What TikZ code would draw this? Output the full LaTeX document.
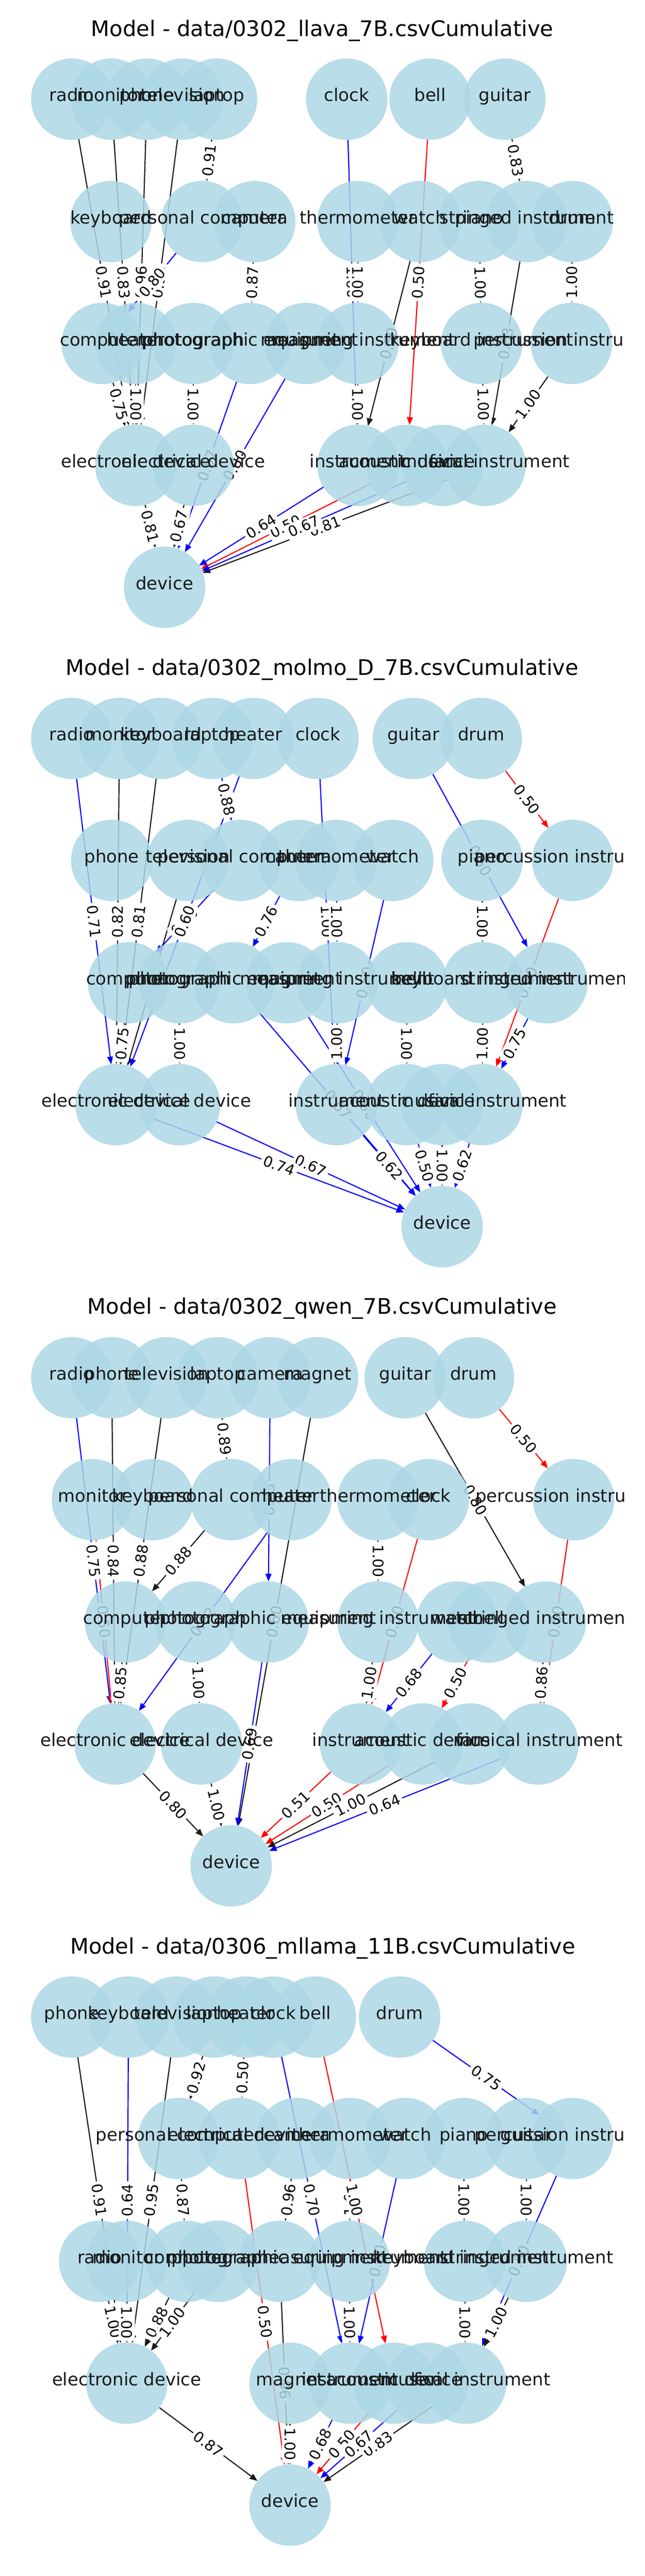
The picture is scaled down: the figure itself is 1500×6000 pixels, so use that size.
\documentclass[tikz,border=0pt]{standalone}
\usepackage{fontspec}
\setmainfont{DejaVu Sans}
\usetikzlibrary{arrows.meta,backgrounds}

\definecolor{nodeblue}{HTML}{ADD8E6}
\definecolor{ek}{HTML}{1A1A1A}
\definecolor{eb}{HTML}{0000FF}
\definecolor{er}{HTML}{FF0000}

\pgfdeclarelayer{edgelayer}
\pgfdeclarelayer{labellayer}
\pgfdeclarelayer{front}
\pgfsetlayers{background,edgelayer,labellayer,main,front}

\tikzset{
  vertex/.style={circle, minimum size=94pt, inner sep=0pt, fill=nodeblue, fill opacity=0.85,
    draw=nodeblue, draw opacity=0.85, line width=0.6pt},
  vlabel/.style={inner sep=0pt, text=black!90, text height=0.76em, text depth=0.24em,
    font=\fontsize{20.4}{24}\selectfont},
  link/.style={line width=1.3pt, -{Triangle[length=9pt,width=7pt]}},
  weight/.style={sloped, fill=white, rounded corners=3pt, inner sep=3pt,
    font=\fontsize{17}{20}\selectfont},
  paneltitle/.style={inner sep=0pt, font=\fontsize{25}{30}\selectfont}
}

% one row of a panel: prefix, y, list of name/x/label
\newcommand{\noderow}[3]{%
  \foreach \n/\x/\t in {#3} {%
    \node[vertex] (#1-\n) at (\x,#2) {};
    \begin{pgfonlayer}{front}
      \begin{scope}
        \clip (0,0) rectangle (1454,6000);
        \node[vlabel] (#1-\n-t) at (#1-\n) {\t};
      \end{scope}
    \end{pgfonlayer}}}

% one weighted edge: edges below, weights above them, nodes on top
\newcommand{\hyplink}[4]{%
  \begin{pgfonlayer}{edgelayer}\draw[link,draw=#3] (#1) -- (#2);\end{pgfonlayer}%
  \begin{pgfonlayer}{labellayer}\path (#1) -- node[weight] {#4} (#2);\end{pgfonlayer}}

\newcommand{\links}[2]{%
  \foreach \src/\dst/\col/\w in {#2} {\hyplink{#1-\src}{#1-\dst}{\col}{\w}}}

\begin{document}
\begin{tikzpicture}[x=0.5pt,y=-0.5pt]
  \useasboundingbox (0,0) rectangle (1500,6000);
  \begin{pgfonlayer}{background}
    \fill[white] (0,0) rectangle (1500,6000);
  \end{pgfonlayer}

  % llava
  \node[paneltitle] (a-title) at (750,72) {Model - data/0302\_llava\_7B.csvCumulative};
  \noderow{a}{231}{radio/167/radio, monitor/259/monitor, phone/342/phone, tv/425/television, laptop/504/laptop, clock/807/clock, bell/1001/bell, guitar/1175/guitar}
  \noderow{a}{516}{keyboard/258/keyboard, pc/470/personal computer, camera/593/camera, thermometer/833/thermometer, watch/978/watch, piano/1115/piano, stringed/1226/stringed instrument, drum/1332/drum}
  \noderow{a}{800}{computer/238/computer, heater/316/heater, photograph/450/photograph, photoeq/582/photographic equipment, magnet/711/magnet, measuring/833/measuring instrument, keyinst/1121/keyboard instrument, percussion/1330/percussion instrument}
  \noderow{a}{1084}{electronic/316/electronic device, electrical/450/electrical device, instrument/833/instrument, acoustic/947/acoustic device, fan/1031/fan, musical/1129/musical instrument}
  \noderow{a}{1368}{device/383/device}
  \links{a}{radio/electronic/ek/0.91, monitor/electronic/ek/0.83, phone/electronic/ek/0.96, tv/electronic/ek/0.90,
    laptop/pc/ek/0.91, pc/computer/eb/0.80, camera/photoeq/ek/0.87, clock/instrument/eb/1.00,
    thermometer/measuring/ek/1.00, watch/instrument/ek/0.50, measuring/instrument/ek/1.00,
    bell/acoustic/er/0.50, guitar/stringed/ek/0.83, stringed/musical/ek/0.83, piano/keyinst/ek/1.00,
    drum/percussion/ek/1.00, keyinst/musical/ek/1.00, percussion/musical/ek/1.00,
    computer/electronic/ek/0.75, heater/electronic/ek/1.00, photograph/electrical/ek/1.00,
    photoeq/device/eb/0.67, magnet/device/eb/0.80, electronic/device/ek/0.81, electrical/device/ek/0.67,
    musical/device/ek/0.81, acoustic/device/er/0.50, fan/device/eb/0.67, instrument/device/eb/0.64}

  % molmo
  \node[paneltitle] (b-title) at (750,1559) {Model - data/0302\_molmo\_D\_7B.csvCumulative};
  \noderow{b}{1720}{radio/167/radio, monitor/278/monitor, keyboard/375/keyboard, laptop/495/laptop, heater/590/heater, clock/740/clock, guitar/962/guitar, drum/1120/drum}
  \noderow{b}{2004}{phone/260/phone, tv/437/television, pc/560/personal computer, camera/695/camera, thermometer/783/thermometer, watch/914/watch, piano/1122/piano, percussion/1333/percussion instrument}
  \noderow{b}{2289}{computer/299/computer, photograph/418/photograph, photoeq/544/photographic equipment, magnet/667/magnet, measuring/785/measuring instrument, bell/947/bell, keyinst/1124/keyboard instrument, stringed/1273/stringed instrument}
  \noderow{b}{2573}{electronic/270/electronic device, electrical/418/electrical device, instrument/783/instrument, acoustic/947/acoustic device, fan/1029/fan, musical/1122/musical instrument}
  \noderow{b}{2857}{device/1029/device}
  \links{b}{radio/electronic/eb/0.71, monitor/electronic/ek/0.82, keyboard/electronic/ek/0.81, tv/electronic/ek/0.86,
    laptop/pc/eb/0.88, pc/computer/eb/0.60, heater/electronic/eb/0.60, clock/instrument/eb/1.00,
    thermometer/measuring/ek/1.00, camera/photoeq/eb/0.76, watch/instrument/eb/0.50, guitar/stringed/eb/0.50,
    drum/percussion/er/0.50, percussion/musical/er/0.50, stringed/musical/eb/0.75, piano/keyinst/ek/1.00,
    keyinst/musical/ek/1.00, measuring/instrument/ek/1.00, photograph/electrical/ek/1.00, bell/acoustic/ek/1.00,
    computer/electronic/ek/0.75, photoeq/device/eb/0.67, magnet/device/eb/0.60, electrical/device/eb/0.67,
    electronic/device/eb/0.74, musical/device/eb/0.62, acoustic/device/eb/0.50, fan/device/ek/1.00,
    instrument/device/eb/0.62}

  % qwen
  \node[paneltitle] (c-title) at (750,3048) {Model - data/0302\_qwen\_7B.csvCumulative};
  \noderow{c}{3209}{radio/167/radio, phone/260/phone, tv/388/television, laptop/507/laptop, camera/629/camera, magnet/739/magnet, guitar/943/guitar, drum/1102/drum}
  \noderow{c}{3493}{monitor/215/monitor, keyboard/356/keyboard, pc/538/personal computer, heater/677/heater, thermometer/880/thermometer, clock/997/clock, percussion/1335/percussion instrument}
  \noderow{c}{3778}{computer/292/computer, photograph/455/photograph, photoeq/624/photographic equipment, measuring/880/measuring instrument, watch/1064/watch, bell/1137/bell, stringed/1269/stringed instrument}
  \noderow{c}{4062}{electronic/268/electronic device, electrical/469/electrical device, instrument/839/instrument, acoustic/983/acoustic device, fan/1094/fan, musical/1252/musical instrument}
  \noderow{c}{4346}{device/538/device}
  \links{c}{radio/electronic/eb/0.75, monitor/electronic/er/0.50, phone/electronic/ek/0.84, tv/electronic/ek/0.88,
    laptop/pc/ek/0.89, pc/computer/ek/0.88, camera/photoeq/eb/0.83, heater/electronic/eb/0.62,
    magnet/device/ek/0.60, photograph/electrical/ek/1.00, thermometer/measuring/ek/1.00,
    measuring/instrument/ek/1.00, clock/instrument/er/0.50, watch/instrument/eb/0.68, bell/acoustic/er/0.50,
    guitar/stringed/ek/0.80, drum/percussion/er/0.50, percussion/musical/er/0.50, stringed/musical/ek/0.86,
    computer/electronic/ek/0.85, photoeq/device/eb/0.69, electronic/device/ek/0.80, electrical/device/ek/1.00,
    musical/device/eb/0.64, acoustic/device/er/0.50, fan/device/ek/1.00, instrument/device/er/0.51}

  % mllama
  \node[paneltitle] (d-title) at (751,4538) {Model - data/0306\_mllama\_11B.csvCumulative};
  \noderow{d}{4698}{phone/167/phone, keyboard/299/keyboard, tv/410/television, laptop/498/laptop, heater/572/heater, clock/636/clock, bell/734/bell, drum/930/drum}
  \noderow{d}{4981}{pc/416/personal computer, electrical/558/electrical device, camera/691/camera, thermometer/815/thermometer, watch/943/watch, piano/1079/piano, guitar/1225/guitar, percussion/1333/percussion instrument}
  \noderow{d}{5267}{radio/232/radio, monitor/295/monitor, computer/435/computer, photograph/507/photograph, photoeq/651/photographic equipment, measuring/813/measuring instrument, keyinst/1081/keyboard instrument, stringed/1225/stringed instrument}
  \noderow{d}{5551}{electronic/295/electronic device, magnet/675/magnet, instrument/815/instrument, acoustic/917/acoustic device, fan/995/fan, musical/1084/musical instrument}
  \noderow{d}{5835}{device/675/device}
  \links{d}{phone/electronic/ek/0.91, keyboard/electronic/eb/0.64, tv/electronic/ek/0.95, laptop/pc/ek/0.92,
    heater/electrical/ek/0.50, pc/computer/ek/0.87, camera/photoeq/ek/0.96, clock/instrument/eb/0.70,
    thermometer/measuring/ek/1.00, bell/acoustic/er/1.00, watch/instrument/eb/0.80, drum/percussion/eb/0.75,
    piano/keyinst/ek/1.00, guitar/stringed/ek/1.00, percussion/musical/eb/0.50, radio/electronic/ek/1.00,
    monitor/electronic/ek/1.00, computer/electronic/ek/0.88, photograph/electronic/ek/1.00,
    electrical/device/er/0.50, photoeq/device/ek/0.96, measuring/instrument/ek/1.00, keyinst/musical/ek/1.00,
    stringed/musical/ek/1.00, electronic/device/ek/0.87, magnet/device/ek/1.00, musical/device/ek/0.83,
    acoustic/device/er/0.50, fan/device/eb/0.67, instrument/device/eb/0.68}
\end{tikzpicture}
\end{document}
